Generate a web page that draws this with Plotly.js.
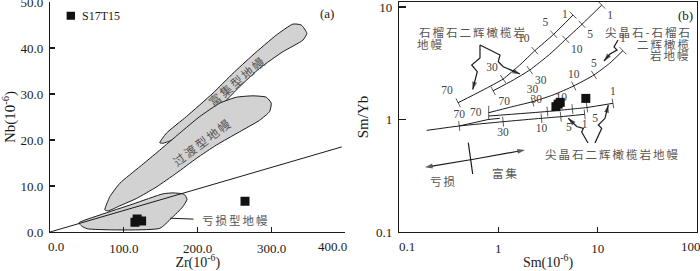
<!DOCTYPE html>
<html><head><meta charset="utf-8">
<script src="https://cdn.plot.ly/plotly-3.0.1.min.js"></script>
<style>html,body{margin:0;padding:0;background:#fff}#chart{width:700px;height:271px}</style>
</head><body><div id="chart"></div>
<script>
// ================= DATA =================
// Panel (a): Zr vs Nb
const sampleName = 'S17T15';
const sampleZr = [115, 118, 124, 264];
const sampleNb = [2.1, 2.8, 2.4, 6.7];
// Panel (b): Sm vs Sm/Yb (same samples)
const sampleSm = [3.8, 4.0, 4.2, 7.6];
const sampleSmYb = [1.30, 1.37, 1.42, 1.54];

// reference line Nb/Zr in panel (a)
const refLineZr = [0, 395];
const refLineNb = [0, 18.5];

// mantle fields (panel a)
const enrichedZr = [148.6, 157.7, 184.7, 220.7, 247.7, 274.8, 306.3, 328.8, 340.1, 347.7, 342.3, 315.3, 283.8, 256.8, 229.7, 202.7, 175.7, 153.1];
const enrichedNb = [19.4, 21.5, 25.1, 30.2, 34.5, 38.5, 42.8, 45.2, 45.0, 43.2, 41.7, 39.2, 35.6, 31.6, 27.2, 23.6, 20.7, 19.3];
const transitionalZr = [74.3, 81.1, 94.6, 121.6, 148.6, 175.7, 202.7, 229.7, 252.3, 274.8, 292.8, 299.5, 297.3, 283.8, 256.8, 225.2, 198.2, 171.2, 144.2, 117.2, 94.6, 78.8];
const transitionalNb = [4.8, 7.7, 10.6, 14.2, 17.8, 21.5, 25.1, 28.0, 29.3, 29.6, 29.3, 28.0, 26.2, 24.3, 21.8, 18.9, 16.0, 12.8, 9.8, 7.3, 5.7, 4.6];
const depletedZr = [39.2, 67.6, 112.6, 153.1, 166.6, 181.5, 185.5, 179.3, 164.4, 148.6, 50.4, 42.8];
const depletedNb = [2.0, 3.7, 6.1, 8.3, 8.5, 8.2, 7.1, 5.4, 3.0, 0.8, 0.7, 1.3];
const fieldLabels = ['富集型地幔', '过渡型地幔', '亏损型地幔'];

// melting curves (panel b); ticks = melting-degree labels (null = no tick)
const garnet1Sm = [0.394, 0.703, 1.117, 1.644, 2.33, 3.61, 5.65];
const garnet1SmYb = [1.41, 1.83, 2.29, 3.05, 4.09, 5.72, 8.49];
const garnet1Ticks = ['70', null, '30', null, '10', '5', '1'];
const garnet2Sm = [0.887, 1.41, 2.07, 3.29, 4.77, 6.95, 11.0];
const garnet2SmYb = [1.80, 2.24, 2.75, 3.80, 5.16, 7.02, 10.4];
const garnet2Ticks = ['70', null, '30', null, '10', '5', '1'];
const spGarSm = [0.80, 1.305, 2.21, 3.55, 5.74, 9.18, 13.2, 17.96];
const spGarSmYb = [1.149, 1.284, 1.439, 1.651, 1.986, 2.487, 3.16, 4.09];
const spGarTicks = ['70', null, '30', null, '10', '5', null, '1'];
const spinel1Sm = [0.80, 3.12, 5.57, 7.81, 14.25];
const spinel1SmYb = [1.074, 1.178, 1.240, 1.278, 1.393];
const spinel1Ticks = [null, '30', '10', '5', '1'];
const spinel2Sm = [0.19, 0.404, 1.117, 2.72, 4.25, 7.40];
const spinel2SmYb = [0.80, 0.876, 0.956, 1.025, 1.059, 1.112];
const spinel2Ticks = [null, '70', '30', '10', '5', '1'];
const mixSm = [0.404, 0.79, 1.035];
const mixSmYb = [0.876, 1.0, 1.025];

// axis tick values / labels
const aXTicks = [0, 100, 200, 300, 400];
const aYTicks = [0, 10, 20, 30, 40, 50];
const bXTicks = [0.1, 1, 10, 100];
const bYTicks = [0.1, 1, 10];

// ================= STYLE =================
const SERIF = 'Liberation Serif, Times New Roman, serif';
const CJK = 'Noto Sans CJK SC, sans-serif';
const INK = '#1a1a1a';
const GRAY = '#555';
const PXX = 298 / 3;      // px per decade (x, panel b)
const PXY = 230 / 2.0444; // px per decade (y, panel b)

const traces = [];
const annotations = [];

function field(xs, ys) {
  traces.push({type: 'scatter', x: xs.concat([xs[0]]), y: ys.concat([ys[0]]), xaxis: 'x', yaxis: 'y',
    mode: 'lines', fill: 'toself', fillcolor: '#d2d2d2',
    line: {color: INK, width: 1, shape: 'spline', smoothing: 0.5}, hoverinfo: 'skip', showlegend: false});
}
field(enrichedZr, enrichedNb);
field(transitionalZr, transitionalNb);
field(depletedZr, depletedNb);
traces.push({type: 'scatter', x: refLineZr, y: refLineNb, xaxis: 'x', yaxis: 'y', mode: 'lines',
  line: {color: INK, width: 1}, hoverinfo: 'skip', showlegend: false});
// leader line for the depleted-field label
traces.push({type: 'scatter', x: [162.7, 194.3], y: [3.0, 2.8], xaxis: 'x', yaxis: 'y', mode: 'lines',
  line: {color: INK, width: 1}, hoverinfo: 'skip', showlegend: false});
traces.push({type: 'scatter', x: sampleZr, y: sampleNb, xaxis: 'x', yaxis: 'y', mode: 'markers', name: sampleName,
  marker: {symbol: 'square', size: 9, color: '#111'}, hoverinfo: 'skip', showlegend: false});

function curve(xs, ys, ticks, posFn, opts) {
  opts = opts || {};
  traces.push({type: 'scatter', x: xs, y: ys, xaxis: 'x2', yaxis: 'y2', mode: 'lines',
    line: {color: INK, width: 1, shape: 'spline', smoothing: 0.5}, hoverinfo: 'skip', showlegend: false});
  const tx = [], ty = [], tt = [], tp = [], ang = [], sz = [];
  const n = xs.length;
  ticks.forEach((lab, i) => {
    if (lab === null) return;
    const i0 = Math.max(0, i - 1), i1 = Math.min(n - 1, i + 1);
    const dx = (Math.log10(xs[i1]) - Math.log10(xs[i0])) * PXX;
    const dy = (Math.log10(ys[i1]) - Math.log10(ys[i0])) * PXY;
    let th = Math.atan2(dy, dx) * 180 / Math.PI;
    if (opts.vertical0 && i === 0) th = 0;
    tx.push(xs[i]); ty.push(ys[i]); tt.push(lab); tp.push(posFn(lab, i, n)); ang.push(-th);
    sz.push(opts.vertical0 && i === 0 ? 10 : 7);
  });
  traces.push({type: 'scatter', x: tx, y: ty, text: tt, textposition: tp, xaxis: 'x2', yaxis: 'y2',
    mode: 'markers+text', textfont: {family: SERIF, size: 11.5, color: '#444'},
    marker: {symbol: 'line-ns', size: sz, angle: ang, color: INK, line: {color: INK, width: 1}},
    hoverinfo: 'skip', showlegend: false, cliponaxis: false});
}
curve(garnet1Sm, garnet1SmYb, garnet1Ticks, (l, i, n) => i === n - 1 ? 'middle left' : 'top left');
curve(garnet2Sm, garnet2SmYb, garnet2Ticks, () => 'bottom right');
curve(spGarSm, spGarSmYb, spGarTicks, (l, i) => i === 0 ? 'middle left' : 'top center', {vertical0: true});
curve(spinel1Sm, spinel1SmYb, spinel1Ticks, l => ({'30': 'top left', '10': 'top left', '5': 'bottom right', '1': 'top center'})[l]);
curve(spinel2Sm, spinel2SmYb, spinel2Ticks, l => l === '70' ? 'top center' : (l === '5' ? 'bottom right' : 'bottom center'));
traces.push({type: 'scatter', x: mixSm, y: mixSmYb, xaxis: 'x2', yaxis: 'y2', mode: 'lines',
  line: {color: INK, width: 1}, hoverinfo: 'skip', showlegend: false});
traces.push({type: 'scatter', x: sampleSm, y: sampleSmYb, xaxis: 'x2', yaxis: 'y2', mode: 'markers', name: sampleName,
  marker: {symbol: 'square', size: 9, color: '#111'}, hoverinfo: 'skip', showlegend: false});

// ---- decorative arrows in panel b, on pixel-like overlay axes x3/y3 ----
const arrowPaths = [
  [[480, 45], [480, 58], [471.7, 65], [477.3, 71.7], [472.7, 89.5]],
  [[480, 45], [500, 55], [498.3, 61.7], [503.3, 66.7], [520, 74]],
  [[618, 40], [614, 47], [617, 50], [610, 54], [604, 61]],
  [[588, 143], [581.7, 132], [583.3, 128.5], [576.7, 126.5], [568.3, 118.3]],
  [[595, 143], [601.7, 128.3], [598.3, 125], [605, 118.3], [608.3, 105]],
  [[475, 159], [425, 167.3]],
  [[475, 159], [525, 150]]
];
arrowPaths.forEach(s => {
  const n = s.length;
  traces.push({type: 'scatter', x: s.map(p => p[0]), y: s.map(p => p[1]), xaxis: 'x3', yaxis: 'y3',
    mode: 'lines+markers', line: {color: INK, width: 1.2},
    marker: {symbol: s.map((p, i) => i === n - 1 ? 'arrow' : 'circle'), size: s.map((p, i) => i === n - 1 ? 8 : 0),
      angleref: 'previous', color: INK, line: {width: 0}},
    hoverinfo: 'skip', showlegend: false, cliponaxis: false});
});
traces.push({type: 'scatter', x: [468.3, 472.7], y: [142.7, 174], xaxis: 'x3', yaxis: 'y3', mode: 'lines',
  line: {color: INK, width: 1.2}, hoverinfo: 'skip', showlegend: false});

function txt(xref, yref, x, y, text, o) {
  o = o || {};
  annotations.push(Object.assign({xref: xref, yref: yref, x: x, y: y, text: text, showarrow: false,
    font: {family: CJK, size: 11.5, color: GRAY}}, o));
}
// panel a labels
txt('x', 'y', 253, 32.9, fieldLabels[0], {textangle: -40, font: {family: CJK, size: 12, color: GRAY}});
txt('x', 'y', 205.7, 19.6, fieldLabels[1], {textangle: -37, font: {family: CJK, size: 12, color: GRAY}});
txt('x', 'y', 251.5, 2.6, fieldLabels[2], {font: {family: CJK, size: 11.5, color: GRAY}});
txt('x', 'y', 375, 47.4, '(a)', {font: {family: SERIF, size: 13, color: INK}});
txt('x', 'y', 40.5, 47.0, sampleName, {xanchor: 'left', font: {family: SERIF, size: 12, color: INK}});
// panel b labels
txt('x3', 'y3', 473.5, 32, '石榴石二辉橄榄岩');
txt('x3', 'y3', 431, 43.5, '地幔');
txt('x3', 'y3', 648.5, 32, '尖晶石-石榴石');
txt('x3', 'y3', 664.5, 43.5, '二辉橄榄');
txt('x3', 'y3', 670, 55, '岩地幔');
txt('x3', 'y3', 612, 153.5, '尖晶石二辉橄榄岩地幔');
txt('x3', 'y3', 444.5, 181, '亏损');
txt('x3', 'y3', 506, 173, '富集');
txt('x3', 'y3', 685, 15, '(b)', {font: {family: SERIF, size: 13, color: INK}});
// end tick labels, drawn inside the axis ends as in the reference
const tickFont = {family: SERIF, size: 13, color: INK};
txt('x', 'y', 7.9, 0, aXTicks[0].toFixed(1), {yshift: -14.7, font: tickFont});
txt('x', 'y', 383, 0, aXTicks[4].toFixed(1), {yshift: -14.7, font: tickFont});
txt('x3', 'y3', 406.7, 232, String(bXTicks[0]), {yshift: -14.7, font: tickFont});
txt('x3', 'y3', 690.5, 232, String(bXTicks[3]), {yshift: -14.7, font: tickFont});

const axBase = {showgrid: false, zeroline: false, showline: true, linecolor: INK, linewidth: 1.2,
  ticks: 'inside', ticklen: 5, tickcolor: INK, tickwidth: 1.2, ticklabeloverflow: 'allow',
  tickfont: tickFont};
const titleFont = {family: SERIF, size: 14, color: INK};
const yTitleFont = {family: SERIF, size: 15, color: INK};

const layout = {
  width: 700, height: 271, margin: {l: 50, r: 3, t: 2, b: 39},
  paper_bgcolor: '#fff', plot_bgcolor: 'rgba(0,0,0,0)', showlegend: false, hovermode: false,
  font: {family: SERIF},
  xaxis: Object.assign({}, axBase, {domain: [0, 0.4567], range: [0, 400], tickvals: aXTicks.slice(1, 4),
    ticktext: aXTicks.slice(1, 4).map(v => v.toFixed(1)), anchor: 'y', ticklabelstandoff: 4,
    title: {text: 'Zr(10<sup>-6</sup>)', font: titleFont, standoff: 2}}),
  yaxis: Object.assign({}, axBase, {domain: [0, 1], range: [0, 50], tickvals: aYTicks,
    ticktext: aYTicks.map(v => v.toFixed(1)), anchor: 'x', ticklabelstandoff: 3,
    title: {text: 'Nb(10<sup>-6</sup>)', font: yTitleFont, standoff: 3}}),
  xaxis2: Object.assign({}, axBase, {domain: [0.5394, 1], type: 'log', range: [-1, 2], tickvals: bXTicks.slice(1, 3),
    ticktext: bXTicks.slice(1, 3).map(String), anchor: 'y2', mirror: true, ticklabelstandoff: 4,
    title: {text: 'Sm(10<sup>-6</sup>)', font: titleFont, standoff: 2}}),
  yaxis2: Object.assign({}, axBase, {domain: [0, 1], type: 'log', range: [-1, 1.0444], tickvals: bYTicks,
    ticktext: bYTicks.map(String), anchor: 'x2', mirror: true, ticklen: 7, ticklabelstandoff: 3,
    title: {text: 'Sm/Yb', font: yTitleFont, standoff: 3}}),
  xaxis3: {overlaying: 'x2', range: [399, 697], visible: false, anchor: 'y3'},
  yaxis3: {overlaying: 'y2', range: [232, 2], visible: false, anchor: 'x3'},
  annotations: annotations,
  shapes: [{type: 'rect', xref: 'x', yref: 'y', xsizemode: 'pixel', ysizemode: 'pixel',
    xanchor: 28.2, yanchor: 47.0, x0: -4.2, x1: 4.2, y0: -4, y1: 4, fillcolor: '#111', line: {width: 0}}]
};

Plotly.newPlot('chart', traces, layout, {staticPlot: true, displayModeBar: false}).then(gd => {
  // the reference sets its Chinese labels with wide letter spacing
  gd.querySelectorAll('.annotation-text').forEach(t => {
    if (/[\u4e00-\u9fff]/.test(t.textContent)) t.style.letterSpacing = '2px';
  });
});
</script>
</body></html>
